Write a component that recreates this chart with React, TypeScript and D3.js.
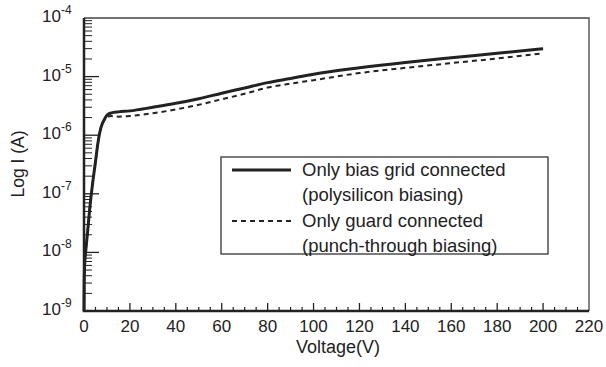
import React, { useEffect, useRef } from 'react';
import * as d3 from 'd3';

// voltage sweep (V)
const voltage = [0, 0.1, 0.3, 0.7, 1.2, 1.8, 2.5, 3.2, 4, 5, 6, 7, 8, 9, 10, 12, 15, 20, 30, 40, 50, 60, 70, 80, 90, 100, 120, 140, 160, 180, 200];

// Only bias grid connected (A)
const biasGridCurrent = [1e-9, 3.2e-9, 6.3e-9, 1.0e-8, 1.6e-8, 2.8e-8, 5.6e-8, 1.0e-7, 1.8e-7, 3.5e-7, 7.1e-7, 1.17e-6, 1.58e-6, 1.9e-6, 2.19e-6, 2.4e-6, 2.5e-6, 2.6e-6, 3.0e-6, 3.5e-6, 4.2e-6, 5.2e-6, 6.4e-6, 7.9e-6, 9.3e-6, 1.1e-5, 1.41e-5, 1.74e-5, 2.09e-5, 2.5e-5, 3.0e-5];

// Only guard connected (A)
const guardCurrent = [1e-9, 3.2e-9, 6.3e-9, 1.0e-8, 1.6e-8, 2.8e-8, 5.6e-8, 1.0e-7, 1.8e-7, 3.5e-7, 7.1e-7, 1.17e-6, 1.55e-6, 1.85e-6, 2.08e-6, 2.12e-6, 2.07e-6, 2.13e-6, 2.37e-6, 2.75e-6, 3.3e-6, 4.1e-6, 5.1e-6, 6.5e-6, 7.6e-6, 8.7e-6, 1.15e-5, 1.41e-5, 1.7e-5, 2.04e-5, 2.5e-5];

const xTicks = [0, 20, 40, 60, 80, 100, 120, 140, 160, 180, 200, 220];
const yExponents = [-4, -5, -6, -7, -8, -9];
const legendLabels = [
  ['Only bias grid connected', '(polysilicon biasing)'],
  ['Only guard connected', '(punch-through biasing)'],
];

const width = 606;
const height = 367;
const margin = { top: 18, right: 17, bottom: 56, left: 84 };
const font = '"Liberation Sans", Arial, sans-serif';
const ink = '#222';

export default function App() {
  const svgRef = useRef<SVGSVGElement>(null);

  useEffect(() => {
    if (!svgRef.current) return;
    const svg = d3.select(svgRef.current);
    svg.selectAll('*').remove();

    const x = d3.scaleLinear().domain([0, 220]).range([margin.left, width - margin.right]);
    const y = d3.scaleLog().domain([1e-9, 1e-4]).range([height - margin.bottom, margin.top]);
    const [x0, x1] = x.range();
    const [y0, y1] = y.range();

    // frame: thin top/right
    svg.append('path')
      .attr('d', `M${x0},${y1}H${x1}V${y0}`)
      .attr('fill', 'none').attr('stroke', '#444').attr('stroke-width', 1.3);

    // minor x ticks every 5 V
    const g = svg.append('g').attr('stroke', ink);
    d3.range(5, 220, 5).filter(v => v % 20 !== 0).forEach(v => {
      g.append('line').attr('x1', x(v)).attr('x2', x(v)).attr('y1', y0).attr('y2', y0 - 4).attr('stroke-width', 1.2);
    });
    xTicks.slice(1, -1).forEach(v => {
      g.append('line').attr('x1', x(v)).attr('x2', x(v)).attr('y1', y0).attr('y2', y0 - 8).attr('stroke-width', 1.3);
    });

    // y ticks: decades + minors
    yExponents.forEach(e => {
      if (e > -9 && e < -4) {
        g.append('line').attr('x1', x0).attr('x2', x0 + 15).attr('y1', y(10 ** e)).attr('y2', y(10 ** e)).attr('stroke-width', 1.3);
      }
      if (e < -4) {
        d3.range(2, 10).forEach(m => {
          const yy = y(m * 10 ** e);
          g.append('line').attr('x1', x0).attr('x2', x0 + 8).attr('y1', yy).attr('y2', yy).attr('stroke-width', 1);
        });
      }
    });

    // thick left/bottom axes
    svg.append('path')
      .attr('d', `M${x0},${y1}V${y0}H${x1}`)
      .attr('fill', 'none').attr('stroke', ink).attr('stroke-width', 2.5);

    // x labels
    svg.append('g').selectAll('text').data(xTicks).join('text')
      .attr('x', d => x(d)).attr('y', y0 + 21)
      .attr('text-anchor', 'middle')
      .attr('font-family', font).attr('font-size', 17).attr('fill', ink)
      .text(d => d);

    // y labels 10^n
    const yl = svg.append('g').attr('font-family', font).attr('fill', ink);
    yExponents.forEach(e => {
      const t = yl.append('text').attr('x', 42).attr('y', y(10 ** e) + 4).attr('font-size', 17);
      t.append('tspan').text('10');
      t.append('tspan').attr('dy', -8).attr('font-size', 12).text(`${e}`);
    });

    // axis titles
    svg.append('text')
      .attr('x', 338).attr('y', 353)
      .attr('text-anchor', 'middle')
      .attr('font-family', font).attr('font-size', 18).attr('fill', ink)
      .text('Voltage(V)');
    svg.append('text')
      .attr('transform', `translate(24,164) rotate(-90)`)
      .attr('text-anchor', 'middle')
      .attr('font-family', font).attr('font-size', 17.5).attr('fill', ink)
      .text('Log I (A)');

    const line = d3.line<number>()
      .x((_, i) => x(voltage[i]))
      .y(d => y(d))
      .curve(d3.curveMonotoneX);

    svg.append('path').datum(guardCurrent)
      .attr('d', line).attr('fill', 'none')
      .attr('stroke', ink).attr('stroke-width', 2).attr('stroke-dasharray', '5,4');
    svg.append('path').datum(biasGridCurrent)
      .attr('d', line).attr('fill', 'none')
      .attr('stroke', ink).attr('stroke-width', 3);

    // legend
    const lg = svg.append('g').attr('transform', 'translate(221,157)');
    lg.append('rect').attr('width', 327).attr('height', 97)
      .attr('fill', 'white').attr('stroke', '#333').attr('stroke-width', 1.3);
    legendLabels.forEach((rows, i) => {
      const yy = 13 + i * 51;
      lg.append('line').attr('x1', 11).attr('x2', 70).attr('y1', yy).attr('y2', yy)
        .attr('stroke', ink)
        .attr('stroke-width', i === 0 ? 3 : 2)
        .attr('stroke-dasharray', i === 0 ? null : '5,4');
      rows.forEach((r, j) => {
        lg.append('text').attr('x', 81).attr('y', yy + 6 + j * 25)
          .attr('font-family', font).attr('font-size', 18.5).attr('fill', ink)
          .text(r);
      });
    });
  }, []);

  return (
    <svg
      ref={svgRef}
      width={width}
      height={height}
      style={{ position: 'absolute', left: 0, top: 0, background: 'white' }}
    />
  );
}
